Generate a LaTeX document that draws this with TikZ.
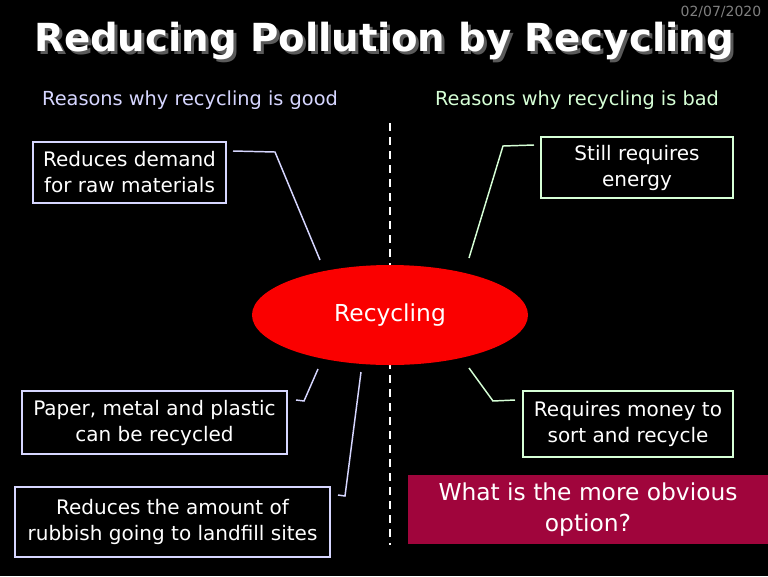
\documentclass[tikz,border=0pt]{standalone}
\usepackage{fontspec}
\setmainfont{DejaVu Sans}
\usetikzlibrary{shapes.geometric,positioning}
\definecolor{goodcol}{RGB}{214,214,255}
\definecolor{badcol}{RGB}{214,255,214}
\definecolor{recred}{RGB}{250,0,0}
\definecolor{askcol}{RGB}{160,5,60}
\definecolor{shadowcol}{RGB}{90,90,90}
\tikzset{
  reasonbox/.style={line width=1.5pt, text=white, align=center, inner sep=0pt,
    font=\fontsize{15}{19.5}\selectfont},
  goodbox/.style={reasonbox, draw=goodcol},
  badbox/.style={reasonbox, draw=badcol},
  goodlink/.style={draw=goodcol, line width=1.1pt},
  badlink/.style={draw=badcol, line width=1.1pt},
  headtext/.style={font=\fontsize{14.5}{18}\selectfont}
}

\begin{document}
\begin{tikzpicture}[x=0.75pt,y=0.75pt,yscale=-1,xscale=1]
%set diagram at 768 x 576 with black page
\path[use as bounding box, fill=black] (0,0) rectangle (768,576);

% Title with its shadow
\node[text=shadowcol, anchor=base, font=\fontsize{29}{34}\bfseries] (titleshadow) at (387,54) {Reducing Pollution by Recycling};
\node[text=white, anchor=base, font=\fontsize{29}{34}\bfseries] (title) at (384,51) {Reducing Pollution by Recycling};
% Date
\node[text=gray, anchor=east, font=\fontsize{10.5}{12}\selectfont] (date) at (766,12) {02/07/2020};

% Column heads
\node[headtext, text=goodcol] (goodhead) at (190,100) {Reasons why recycling is good};
\node[headtext, text=badcol] (badhead) at (577,100) {Reasons why recycling is bad};

%Dashed divider
\draw[white, line width=1.1pt, dash pattern=on 6pt off 4.5pt] (390,123) -- (390,545);

% Centre ellipse
\node[ellipse, fill=recred, minimum width=207pt, minimum height=75pt, text=white, font=\fontsize{17.5}{20}\selectfont] (rec) at (390,315) {Recycling};

% Reason boxes
\node[goodbox, minimum width=144.75pt, minimum height=45.75pt] (demand) at (129.5,172.5) {Reduces demand\\for raw materials};
\node[goodbox, minimum width=198.75pt, minimum height=47.25pt] (metals) at (154.5,422.5) {Paper, metal and plastic\\can be recycled};
\node[goodbox, minimum width=236.25pt, minimum height=52.5pt] (landfill) at (172.5,522) {Reduces the amount of\\rubbish going to landfill sites};
\node[badbox, minimum width=144pt, minimum height=45.75pt] (energy) at (637,167.5) {Still requires\\energy};
\node[badbox, minimum width=157.5pt, minimum height=49.5pt] (money) at (628,424) {Requires money to\\sort and recycle};

% Question box
\node[fill=askcol, minimum width=270pt, minimum height=51.75pt, text=white, align=center, inner sep=0pt, font=\fontsize{17.5}{23}\selectfont] (ask) at (588,509.5) {What is the more obvious\\option?};

% Connectors
\coordinate (demandbend) at (275,152);
\coordinate (demandend) at (320,260);
\coordinate (metalsbend) at (304,401);
\coordinate (metalsend) at (318,369);
\coordinate (landfillbend) at (345,496);
\coordinate (landfillend) at (361,372);
\coordinate (energybend) at (503,146);
\coordinate (energyend) at (469,258);
\coordinate (moneybend) at (493,401);
\coordinate (moneyend) at (469,368);

\draw[goodlink] ([shift={(6,10)}]demand.north east) -- (demandbend) -- (demandend);
\draw[goodlink] ([shift={(8,10)}]metals.north east) -- (metalsbend) -- (metalsend);
\draw[goodlink] ([shift={(7,9)}]landfill.north east) -- (landfillbend) -- (landfillend);
\draw[badlink] ([shift={(-6,9)}]energy.north west) -- (energybend) -- (energyend);
\draw[badlink] ([shift={(-7,10)}]money.north west) -- (moneybend) -- (moneyend);

\end{tikzpicture}
\end{document}
